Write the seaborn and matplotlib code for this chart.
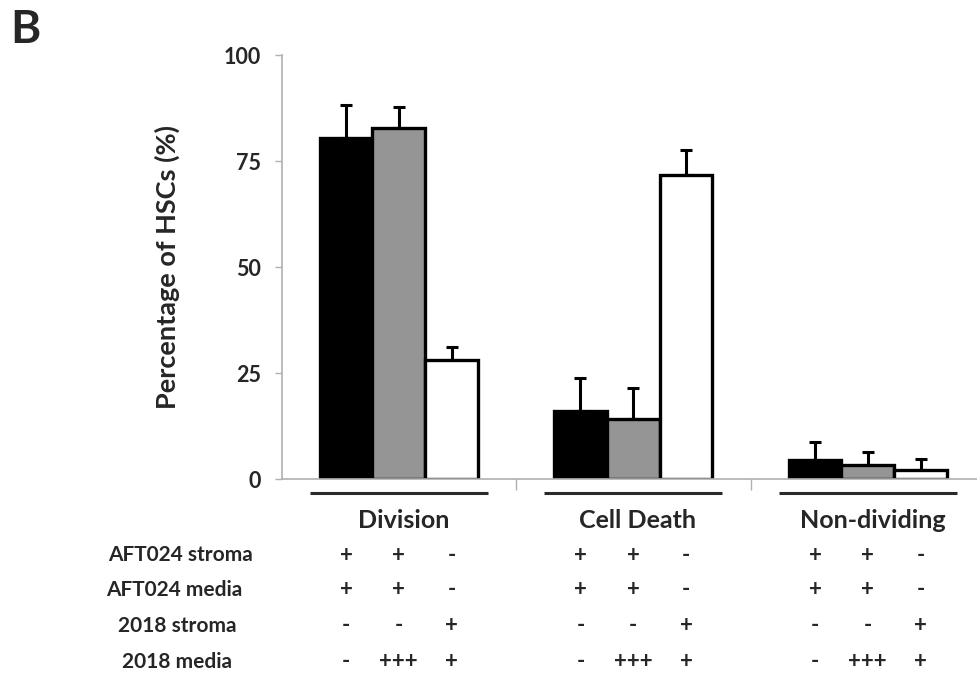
import numpy as np
import pandas as pd
import matplotlib
matplotlib.use("Agg")
import matplotlib.pyplot as plt
import matplotlib.transforms as mtransforms
import seaborn as sns

# Outcome categories and culture conditions
categories = ["Division", "Cell Death", "Non-dividing"]
conditions = ["AFT024", "AFT024 + 2018 media", "2018"]

# Mean percentage of HSCs per condition (one list per category)
division = [80.4, 82.8, 28.1]
cell_death = [16.0, 14.2, 71.7]
non_dividing = [4.5, 3.3, 2.1]

# Upper error (SD) per condition
division_err = [7.8, 4.9, 3.0]
cell_death_err = [7.8, 7.3, 5.9]
non_dividing_err = [4.2, 3.1, 2.6]

# Culture setup table below the axis
row_labels = ["AFT024 stroma", "AFT024 media", "2018 stroma", "2018 media"]
row_signs = [
    ["+", "+", "-"],
    ["+", "+", "-"],
    ["-", "-", "+"],
    ["-", "+++", "+"],
]

bar_colors = ["#000000", "#959595", "#ffffff"]

means = [division, cell_death, non_dividing]
errs = [division_err, cell_death_err, non_dividing_err]
df = pd.DataFrame({
    "category": np.repeat(categories, len(conditions)),
    "condition": conditions * len(categories),
    "value": np.concatenate(means),
})

sns.set_style("white")
plt.rcParams["font.family"] = ["Lato", "DejaVu Sans"]
plt.rcParams["font.weight"] = "bold"

fig = plt.figure(figsize=(9.77, 6.81), dpi=100)
ax = fig.add_axes([281.5 / 977, (681 - 479) / 681, 703.5 / 977, 424 / 681])

sns.barplot(data=df, x="category", y="value", hue="condition",
            order=categories, hue_order=conditions, palette=bar_colors,
            edgecolor="black", linewidth=2.4, width=0.675, gap=0,
            errorbar=None, legend=False, ax=ax, zorder=2)

# Upward-only error bars on each bar
bar_containers = list(ax.containers)
for hue_idx, container in enumerate(bar_containers):
    for cat_idx, bar in enumerate(container.patches):
        xc = bar.get_x() + bar.get_width() / 2
        h = bar.get_height()
        e = errs[cat_idx][hue_idx]
        ax.errorbar(xc, h, yerr=[[0], [e]], fmt="none", ecolor="black",
                    elinewidth=2.2, capsize=4.5, capthick=2.2, zorder=1)

ax.set_xlim(-0.5, 2.5)
ax.set_ylim(0, 100)
ax.set_yticks([0, 25, 50, 75, 100])
ax.set_yticklabels(["0", "25", "50", "75", "100"], fontsize=15.5, fontweight="bold")
ax.set_xticks([0.5, 1.5])
ax.set_xticklabels([])
ax.tick_params(axis="y", length=5, width=1, color="#b0b0b0", pad=10, left=True)
ax.tick_params(axis="x", length=8, width=1, color="#b0b0b0", bottom=True, direction="out")
ax.set_xlabel("")
ax.set_ylabel("Percentage of HSCs (%)", fontsize=19.5, fontweight="bold", labelpad=31)

for side in ["top", "right"]:
    ax.spines[side].set_visible(False)
for side in ["left", "bottom"]:
    ax.spines[side].set_color("#b0b0b0")
    ax.spines[side].set_linewidth(1.2)

# Underlines and category labels below the axis
trans = mtransforms.blended_transform_factory(ax.transData, ax.transAxes)
for i, cat in enumerate(categories):
    ax.plot([i - 0.38, i + 0.38], [-0.033, -0.033], color="#2a2a2a", lw=2.2,
            transform=trans, clip_on=False, solid_capstyle="butt")
    ax.text(i + 0.02, -0.097, cat, transform=trans, ha="center", va="center",
            fontsize=18, fontweight="bold")

# Condition table rows
row_y_px = [555, 590, 626, 662]
row_x_px = [180, 174, 177, 177]
bar_offsets = [-0.225, 0, 0.225]
for r, label in enumerate(row_labels):
    yfig = 1 - row_y_px[r] / 681
    fig.text(row_x_px[r] / 977, yfig, label, ha="center", va="center",
             fontsize=15, fontweight="bold")
    for i in range(len(categories)):
        for j, off in enumerate(bar_offsets):
            xd = i + off
            xdisp = ax.transData.transform((xd, 0))[0]
            fig.text(xdisp / (fig.dpi * fig.get_figwidth()), yfig,
                     row_signs[r][j], ha="center", va="center", fontsize=16,
                     fontweight="bold")

fig.text(10 / 977, 1 - 30 / 681, "B", ha="left", va="center", fontsize=33,
         fontweight="bold")

fig.savefig("out.png", dpi=100)
